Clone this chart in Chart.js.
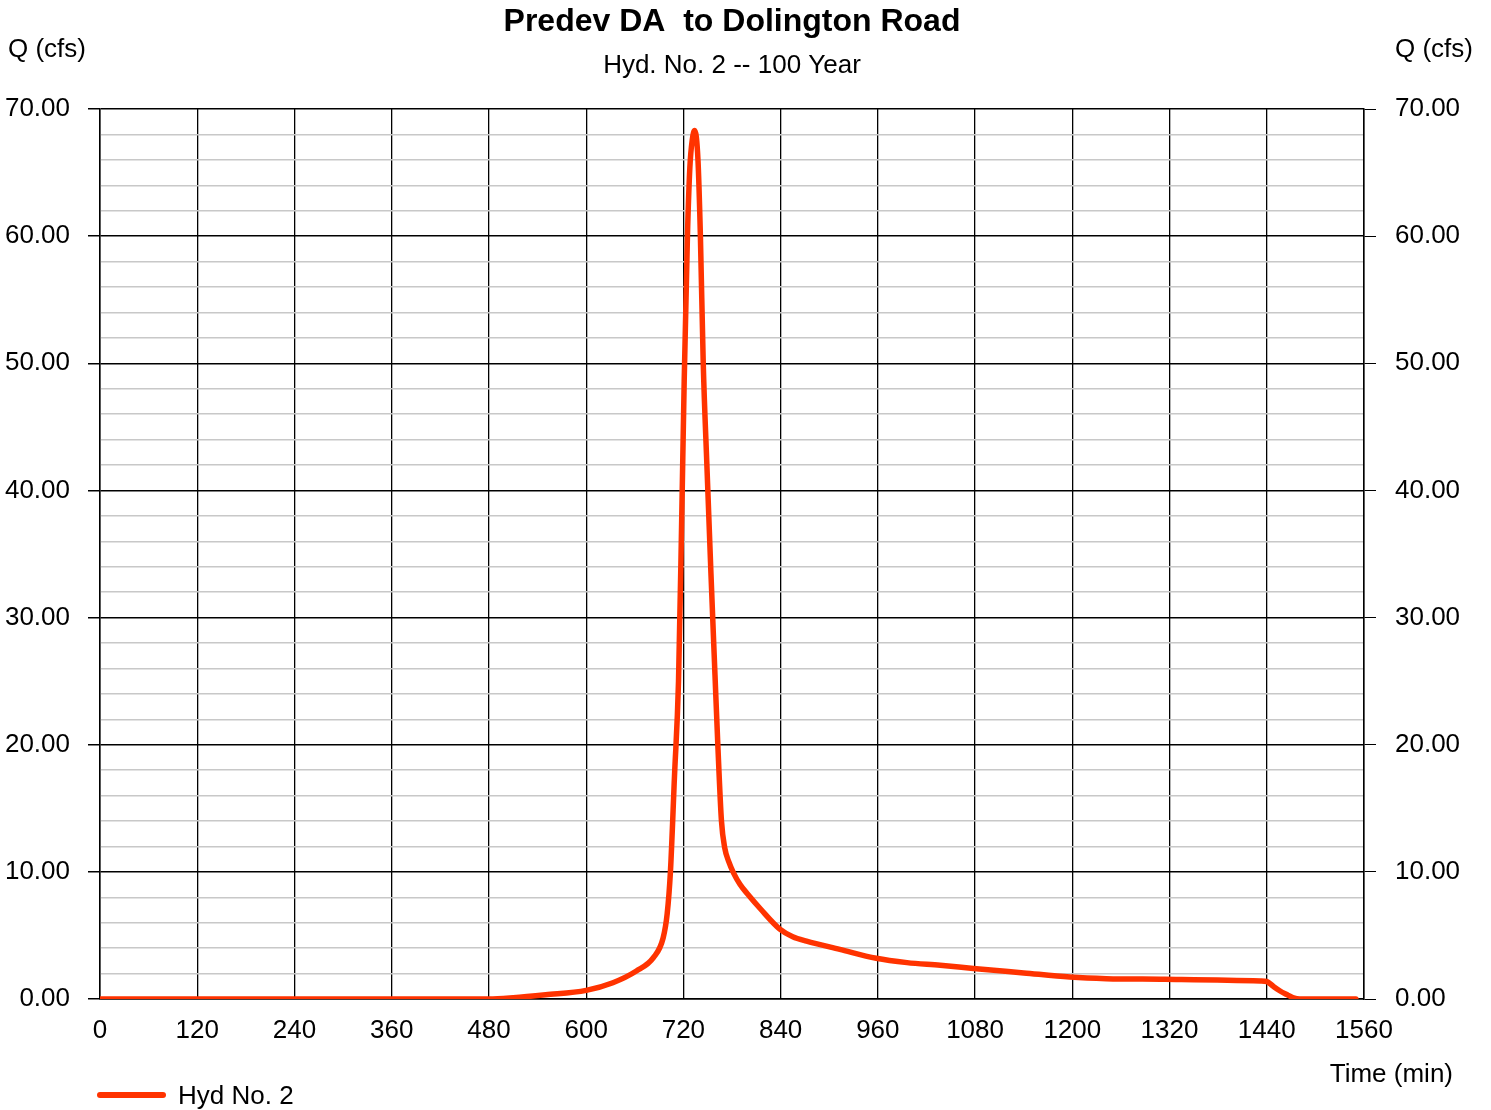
<!DOCTYPE html>
<html>
<head>
<meta charset="utf-8">
<script src="https://cdn.jsdelivr.net/npm/chart.js@4.4.1/dist/chart.umd.min.js"></script>
<style>
  html, body { margin: 0; padding: 0; background: #fff; }
  #wrap { width: 1491px; height: 1110px; position: relative; }
</style>
</head>
<body>
<div id="wrap"><canvas id="hydroChart" width="1491" height="1110"></canvas></div>
<script>
// Hydrograph values
const timeMin = [0, 480, 510, 550, 600, 633, 662, 683, 695, 700, 704, 709, 714, 718, 721, 725, 728, 731, 734,
  738, 741, 744.5, 749, 754, 759, 762.5, 767, 771, 776, 782, 790, 800, 815, 839, 855, 872, 913, 958, 996,
  1037, 1078, 1140, 1197, 1242, 1314, 1432, 1440, 1448, 1456, 1464, 1472, 1481, 1550];
const flowCfs = [0, 0, 0.1, 0.33, 0.68, 1.28, 2.2, 3.25, 4.8, 6.7, 10, 17.5, 25, 38, 48.6, 60, 65.4, 67.6, 68.3,
  66, 60, 50, 42, 33.5, 25.5, 20, 14, 11.9, 10.8, 9.9, 9.0, 8.2, 7.1, 5.5, 4.9, 4.55, 3.9, 3.2, 2.86,
  2.65, 2.4, 2.05, 1.73, 1.6, 1.55, 1.42, 1.38, 1.0, 0.65, 0.37, 0.12, 0, 0];
const xTicks = [0, 120, 240, 360, 480, 600, 720, 840, 960, 1080, 1200, 1320, 1440, 1560];
const yTicks = [0, 10, 20, 30, 40, 50, 60, 70];

const FONT = "'Liberation Sans', Arial, sans-serif";
const lineColor = '#ff3300';

// Titles, axis captions and legend drawn as text on the canvas
const textPlugin = {
  id: 'hydroText',
  afterDraw(chart) {
    const ctx = chart.ctx;
    const area = chart.chartArea;
    const mid = (area.left + area.right) / 2;
    ctx.save();
    ctx.fillStyle = '#000';
    ctx.textBaseline = 'middle';

    ctx.textAlign = 'center';
    ctx.font = 'bold 32px ' + FONT;
    ctx.fillText('Predev DA  to Dolington Road', mid, 22);
    ctx.font = '26px ' + FONT;
    ctx.fillText('Hyd. No. 2 -- 100 Year', mid, 66);

    ctx.textAlign = 'left';
    ctx.fillText('Q (cfs)', 8, 50);
    ctx.fillText('Q (cfs)', 1395, 50);
    ctx.textAlign = 'right';
    ctx.fillText('Time (min)', 1453, 1075);

    // legend
    ctx.strokeStyle = lineColor;
    ctx.lineWidth = 6;
    ctx.lineCap = 'round';
    ctx.beginPath();
    ctx.moveTo(100, 1095);
    ctx.lineTo(163, 1095);
    ctx.stroke();
    ctx.textAlign = 'left';
    ctx.fillText('Hyd No. 2', 178, 1097);
    ctx.restore();
  }
};

const yTickLabel = v => (yTicks.includes(v) ? v.toFixed(2) : '');
const gridColor = c => (c.tick && c.tick.value % 10 === 0 ? '#000' : '#c8c8c8');
const tickColor = c => (c.tick && c.tick.value % 10 === 0 ? '#000' : 'rgba(0,0,0,0)');

new Chart(document.getElementById('hydroChart'), {
  type: 'line',
  data: {
    datasets: [{
      label: 'Hyd No. 2',
      data: timeMin.map((t, i) => ({ x: t, y: flowCfs[i] })),
      borderColor: lineColor,
      backgroundColor: lineColor,
      borderWidth: 5.5,
      borderCapStyle: 'round',
      borderJoinStyle: 'round',
      pointRadius: 0,
      cubicInterpolationMode: 'monotone',
      fill: false
    }]
  },
  options: {
    responsive: false,
    animation: false,
    layout: { padding: { top: 109, left: 0, right: 0, bottom: 0 } },
    plugins: {
      legend: { display: false },
      tooltip: { enabled: false }
    },
    scales: {
      x: {
        type: 'linear',
        min: 0,
        max: 1560,
        afterBuildTicks: s => { s.ticks = xTicks.map(v => ({ value: v })); },
        afterFit: s => { s.height = 111; },
        border: { color: '#000', width: 1.5 },
        grid: { color: '#000', lineWidth: 1.3, tickLength: 10, tickColor: 'rgba(0,0,0,0)' },
        ticks: {
          color: '#000',
          font: { family: FONT, size: 26 },
          padding: 6,
          maxRotation: 0,
          autoSkip: false,
          callback: v => String(v)
        }
      },
      y: {
        position: 'left',
        min: 0,
        max: 70,
        afterFit: s => { s.width = 100; },
        border: { color: '#000', width: 1.5 },
        grid: { color: gridColor, lineWidth: 1.5, tickLength: 12, tickColor: tickColor },
        ticks: {
          stepSize: 2,
          autoSkip: false,
          color: '#000',
          font: { family: FONT, size: 26 },
          padding: 18,
          callback: yTickLabel
        }
      },
      y2: {
        position: 'right',
        min: 0,
        max: 70,
        afterFit: s => { s.width = 127; },
        border: { color: '#000', width: 1.5 },
        grid: { drawOnChartArea: false, tickLength: 12, tickColor: tickColor, color: '#000' },
        ticks: {
          stepSize: 2,
          autoSkip: false,
          color: '#000',
          font: { family: FONT, size: 26 },
          padding: 19,
          callback: yTickLabel
        }
      }
    }
  },
  plugins: [textPlugin]
});
</script>
</body>
</html>
